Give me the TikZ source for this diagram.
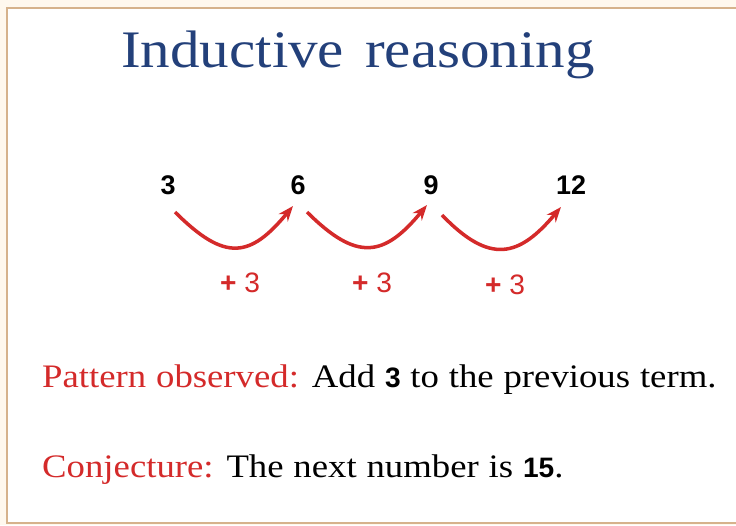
\documentclass[tikz,border=0pt]{standalone}
\usepackage{xcolor}
\usepackage{fontspec}
\setmainfont[FakeStretch=1.12]{Liberation Serif}
\newfontfamily\numfont{Liberation Sans}
\usetikzlibrary{arrows.meta}
\definecolor{frame}{HTML}{D6B28C}
\definecolor{paper}{HTML}{FFF8EE}
\definecolor{ink}{HTML}{23407A}
\definecolor{hot}{HTML}{D42A2A}

\begin{document}
\begin{tikzpicture}[x=0.03cm, y=-0.03cm, >={Stealth[length=13pt,width=10pt]}, every node/.style={inner sep=0pt}]
\tikzset{
  term/.style={font=\numfont\bfseries\fontsize{23}{26}\selectfont},
  step label/.style={font=\numfont\fontsize{24}{27}\selectfont, text=hot},
  hop/.style={->, hot, line width=3pt},
  line/.style={anchor=base west, font=\fontsize{28}{32}\selectfont\spaceskip 0.3em\relax}
}
\path[use as bounding box] (0,0) rectangle (736,525);
\clip (0,0) rectangle (736,525);
\fill[paper] (0,0) rectangle (736,525);
\filldraw[fill=white, draw=frame, line width=2.5pt] (7,8) rectangle (760,523);

% title
\node[anchor=base, text=ink, font=\fontsize{45}{52}\selectfont\spaceskip 0.4em\relax] (title) at (358,67) {Inductive reasoning};

% the sequence
\node[term] (n3) at (168,185) {3};
\node[term] (n6) at (298,185) {6};
\node[term] (n9) at (431,185) {9};
\node[term] (n12) at (571,185) {12};

\draw[hop] ([shift={(7,27)}]n3.center) .. controls +(50,50) and +(-43,52) .. ([shift={(-5,21)}]n6.center);
\draw[hop] ([shift={(9,27)}]n6.center) .. controls +(50,50) and +(-43,52) .. ([shift={(-4,20)}]n9.center);
\draw[hop] ([shift={(11,30)}]n9.center) .. controls +(48,50) and +(-42,50) .. ([shift={(-10,22)}]n12.center);

\node[step label] (s1) at (240,283) {{\bfseries+} 3};
\node[step label] (s2) at (372,283) {{\bfseries+} 3};
\node[step label] (s3) at (505,285) {{\bfseries+} 3};

% what we get from it
\node[line] (pattern) at (42,387) {\textcolor{hot}{Pattern observed:} Add {\numfont\bfseries\fontsize{24}{28}\selectfont 3} to the previous term.};
\node[line] (guess) at (42,477) {\textcolor{hot}{Conjecture:} The next number is {\numfont\bfseries\fontsize{24}{28}\selectfont 15}.};
\end{tikzpicture}
\end{document}
